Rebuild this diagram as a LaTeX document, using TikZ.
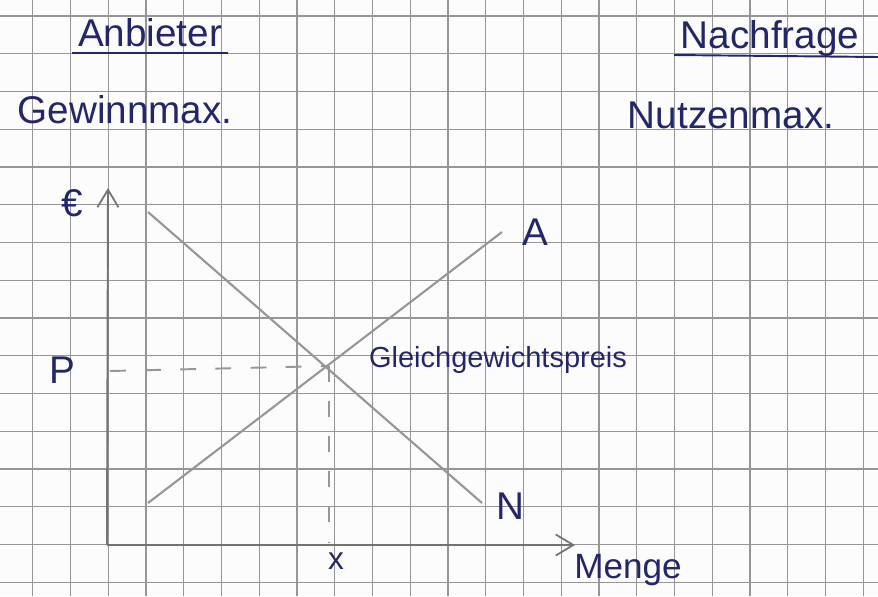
\documentclass[tikz,border=0pt]{standalone}
\usepackage{fontspec}
\setmainfont{Liberation Sans}
\usetikzlibrary{arrows.meta}
\definecolor{ink}{RGB}{35,38,105}
\definecolor{pencil}{RGB}{150,150,150}
\definecolor{pencildark}{RGB}{115,115,115}
\definecolor{gridc}{RGB}{150,150,150}
\definecolor{paper}{RGB}{252,252,253}
\tikzset{
  gridline/.style={draw=gridc, line width=0.75pt},
  inktext/.style={text=ink, inner sep=0pt, font=\fontsize{22}{24}\selectfont},
  smalltext/.style={text=ink, inner sep=0pt, font=\fontsize{18}{20}\selectfont},
  underline/.style={draw=ink, line width=1.1pt},
  axis/.style={draw=pencildark, line width=1.1pt, -{Straight Barb[length=10pt,width=12pt,line width=1pt]}},
  curve/.style={draw=pencil, line width=1.2pt},
  helper/.style={draw=pencil, line width=1.1pt, dash pattern=on 9pt off 11pt}
}
\begin{document}
\begin{tikzpicture}[x=0.02cm,y=-0.02cm]
\useasboundingbox (0,0) rectangle (878,596);
\fill[paper] (0,0) rectangle (878,596);
% grid
\foreach \k in {0,...,22} {\draw[gridline] ({32.7+37.75*\k},0) -- ({32.7+37.75*\k},596);}
\foreach \k in {0,...,15} {\draw[gridline] (0,{16+37.75*\k}) -- (878,{16+37.75*\k});}
% headings
\node[inktext] (anb) at (150,33) {Anbieter};
\coordinate (anbL) at (72,53);
\coordinate (anbR) at (228,53);
\draw[underline] (anbL) -- (anbR);
\node[inktext] (gew) at (125,110) {Gewinnmax.};
\node[inktext] (nach) at (770,38) {Nachfrage};
\coordinate (nachL) at (674,55);
\coordinate (nachR) at (878,57);
\draw[underline] (nachL) -- (nachR);
\node[inktext] (nutz) at (731,115) {Nutzenmax.};
% axes
\coordinate (O) at (107,545);
\coordinate (Ytop) at (108,188);
\coordinate (Xend) at (575,545);
\draw[axis] (O) -- (Ytop);
\draw[axis] (O) -- (Xend);
% curves
\coordinate (As) at (148,503);
\coordinate (Ae) at (502,232);
\coordinate (Ns) at (148,212);
\coordinate (Ne) at (482,503);
\draw[curve] (As) -- (Ae);
\draw[curve] (Ns) -- (Ne);
% equilibrium helpers
\coordinate (E) at (329,366);
\coordinate (Py) at (110,371);
\coordinate (Xx) at (329,542);
\draw[helper] (Py) -- (E);
\draw[helper] (E) -- (Xx);
% labels
\node[inktext] (euro) at (72,203) {€};
\node[inktext] (p) at (62,370) {P};
\node[smalltext] (x) at (336,561) {x};
\node[inktext] (a) at (535,232) {A};
\node[inktext] (n) at (510,506) {N};
\node[text=ink, inner sep=0pt, font=\fontsize{16.5}{18}\selectfont] (ggp) at (498,360) {Gleichgewichtspreis};
\node[inktext, font=\fontsize{20}{22}\selectfont] (menge) at (628,570) {Menge};
\end{tikzpicture}
\end{document}
